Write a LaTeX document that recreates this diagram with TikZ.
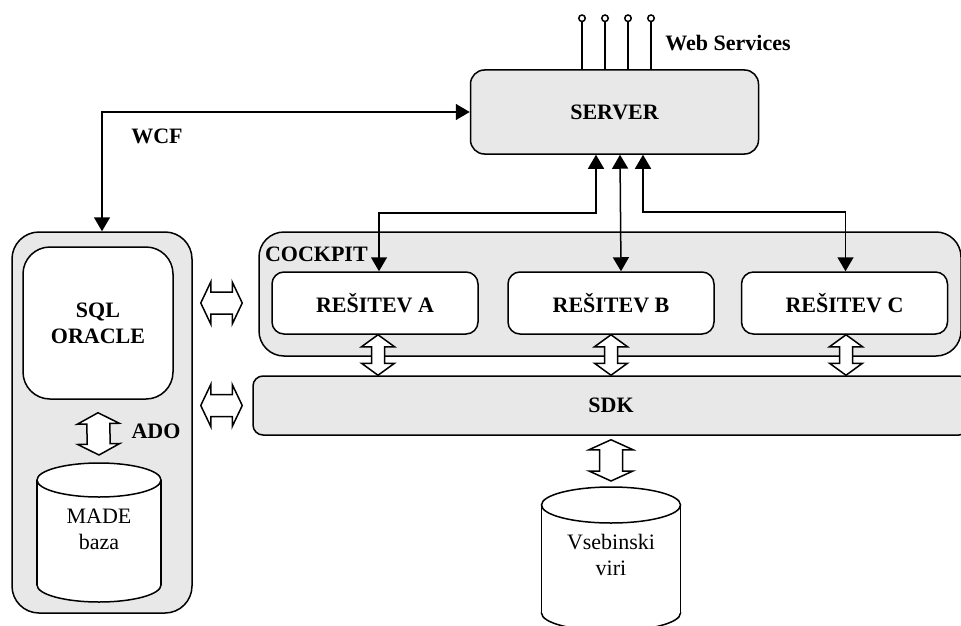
\documentclass[tikz,border=0pt]{standalone}
\usepackage{fontspec}
\setmainfont{Liberation Serif}
\usetikzlibrary{arrows.meta, calc}

\definecolor{panel}{RGB}{232,232,232}
\newcommand{\bigsize}{\fontsize{22}{26}\selectfont}
% database drum: x, y of top centre, y of bottom centre, x radius, y radius
\newcommand{\drum}[5]{%
	\draw[fill=white] (#1,#3) ellipse [x radius=#4, y radius=#5];
	\fill[white] (#1-#4,#2) rectangle (#1+#4,#3);
	\draw (#1-#4,#2) -- (#1-#4,#3) (#1+#4,#2) -- (#1+#4,#3);
	\draw[fill=white] (#1,#2) ellipse [x radius=#4, y radius=#5];
}

\tikzset{
	box/.style={draw, fill=panel, rounded corners=#1, inner sep=0pt, align=center, font=\bigsize\bfseries},
	box/.default=12pt,
	wbox/.style={box=12pt, fill=white, minimum width=206pt, minimum height=62pt},
	lbl/.style={inner sep=0pt, font=\bigsize\bfseries},
	txt/.style={inner sep=0pt, align=center, font=\bigsize},
	link/.style={{Triangle[length=14pt,width=16pt]}-{Triangle[length=14pt,width=16pt]}},
	wsline/.style={-{Circle[open,length=8pt,width=8pt]}},
	fat/.style n args={3}{draw, fill=white, to path={
		-- ($(\tikztostart)!#3!(\tikztotarget)!#1!90:(\tikztotarget)$)
		-- ($(\tikztostart)!#3!(\tikztotarget)!#2!90:(\tikztotarget)$)
		-- ($(\tikztotarget)!#3!(\tikztostart)!#2!-90:(\tikztostart)$)
		-- ($(\tikztotarget)!#3!(\tikztostart)!#1!-90:(\tikztostart)$)
		-- (\tikztotarget)
		-- ($(\tikztotarget)!#3!(\tikztostart)!#1!90:(\tikztostart)$)
		-- ($(\tikztotarget)!#3!(\tikztostart)!#2!90:(\tikztostart)$)
		-- ($(\tikztostart)!#3!(\tikztotarget)!#2!-90:(\tikztotarget)$)
		-- ($(\tikztostart)!#3!(\tikztotarget)!#1!-90:(\tikztotarget)$)
		-- cycle}},
}

\begin{document}
\begin{tikzpicture}[x=1pt, y=-1pt, line width=1.5pt]
	\useasboundingbox (0,0) rectangle (961,626);
	\clip (0,0) rectangle (961,626);

	\node[box=27pt, minimum width=180pt, minimum height=381pt] (madepanel) at (102,422.5) {};
	\node[box=27pt, fill=white, minimum width=150pt, minimum height=152pt] (sql) at (98,323) {SQL\\ORACLE};
	\coordinate (madetop) at (99,480);
	\drum{99}{480}{585}{62}{17}
	\node[txt] (made) at (99,529) {MADE\\baza};
	\node[lbl] (ado) at (156,431) {ADO};

	\node[box=14pt, minimum width=288pt, minimum height=84pt] (server) at (614.5,112) {SERVER};
	\foreach \dx in {-32.5,-9.5,13.5,36.5}
		\draw[wsline] ([xshift=\dx pt]server.north) -- ++(0,-55);
	\node[lbl] (ws) at (728,43) {Web Services};
	\node[lbl] (wcf) at (157,136) {WCF};

	\node[box=25pt, minimum width=702pt, minimum height=124pt] (cockpit) at (610,294) {};
	\node[lbl, anchor=west] (cockpitname) at ([xshift=6pt,yshift=-23pt]cockpit.north west) {COCKPIT};
	\node[wbox] (resA) at (375,303) {REŠITEV A};
	\node[wbox] (resB) at (611,303) {REŠITEV B};
	\node[wbox] (resC) at (844.5,303) {REŠITEV C};

	\node[box=10pt, minimum width=716pt, minimum height=59pt] (sdk) at (611,405.5) {SDK};
	\coordinate (vsebtop) at (611,505);
	\drum{611}{505}{613}{69.5}{18}
	\node[txt] (vseb) at (611,555) {Vsebinski\\viri};

	\draw[link] (server.west) -| (madepanel.north);
	\draw[link] ([xshift=-18.5pt]server.south) -- ++(0,58) -| ([xshift=4pt]resA.north);
	\draw[link] ([xshift=5.5pt]server.south) -- ([xshift=10pt]resB.north);
	\draw[link] ([xshift=28.5pt]server.south) -- ++(0,57) -| ([xshift=1pt]resC.north);

	\draw[fat={21pt}{11pt}{10pt}] ([xshift=8pt]madepanel.east |- resA.center) to ([xshift=-16pt]cockpit.west |- resA.center);
	\draw[fat={21pt}{11pt}{10pt}] ([xshift=8pt]madepanel.east |- sdk.center) to ([xshift=-16pt]cockpit.west |- sdk.center);
	\draw[fat={21pt}{11.5pt}{11pt}] ([yshift=-13pt]sql.south) to ([yshift=25pt]madetop);
	\foreach \n/\dx in {resA/3,resB/0,resC/1.5}
		\draw[fat={16.5pt}{6.5pt}{12pt}] ([xshift=\dx pt]\n.south) to ([xshift=\dx pt]\n.south |- sdk.north);
	\draw[fat={22pt}{11.5pt}{10pt}] ([yshift=-4pt]sdk.south) to ([yshift=24pt]vsebtop);
\end{tikzpicture}
\end{document}
